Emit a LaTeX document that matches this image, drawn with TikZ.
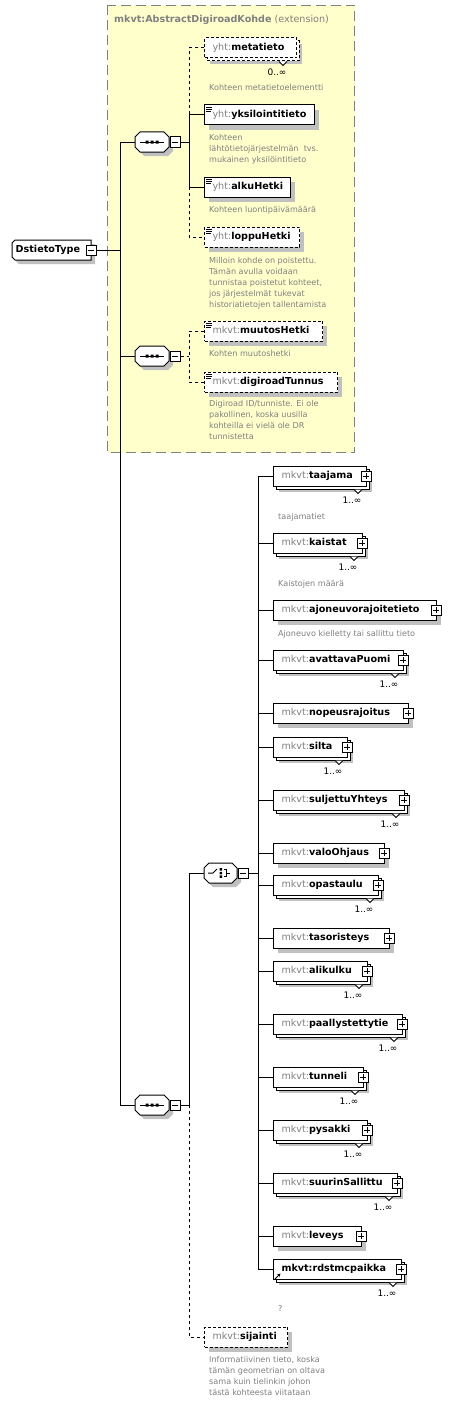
\documentclass[tikz,border=0pt]{standalone}
\usepackage{fontspec}
\setmainfont{DejaVu Sans}
\usetikzlibrary{arrows.meta}
\definecolor{yel}{RGB}{255,255,204}
\definecolor{pfx}{RGB}{128,128,128}
\definecolor{dsc}{RGB}{128,128,128}
\definecolor{shd}{RGB}{192,192,192}
\definecolor{ybrd}{RGB}{128,128,128}
\tikzset{
 ebox/.style={draw, fill=white, line width=1pt, inner sep=0pt, minimum height=20pt, text height=7pt, text depth=2pt, font=\fontsize{9.6}{11}\selectfont},
 edash/.style={dash pattern=on 3pt off 2pt},
 conn/.style={line width=1pt},
 conndash/.style={line width=1pt, dash pattern=on 3pt off 3pt},
 desc/.style={anchor=base west, align=left, inner sep=0pt, text=dsc, font=\fontsize{8.1}{11.2}\selectfont},
 multc/.style={inner sep=0pt, font=\fontsize{9}{10}\selectfont},
 pbox/.style={draw, fill=white, line width=1pt, minimum width=10pt, minimum height=10pt, inner sep=0pt},
 plusbox/.style={pbox, path picture={\draw[line width=1pt] ([xshift=2pt]path picture bounding box.west) -- ([xshift=-2pt]path picture bounding box.east) ([yshift=-2pt]path picture bounding box.north) -- ([yshift=2pt]path picture bounding box.south);}},
 minusbox/.style={pbox, path picture={\draw[line width=1pt] ([xshift=2pt]path picture bounding box.west) -- ([xshift=-2pt]path picture bounding box.east);}},
}
% element: name, left, centre y, right, style, text, stacked
\newcommand\elem[7]{%
  \ifnum#7=1\relax
    \fill[shd] ({#2+6},{#3-4}) rectangle ({#4+6},{#3+16});
    \draw[fill=white,line width=1pt,#5] ({#2+3},{#3-7}) rectangle ({#4+3},{#3+13});
  \else
    \fill[shd] ({#2+5},{#3-5}) rectangle ({#4+5},{#3+15});
  \fi
  \pgfmathsetmacro\elw{#4-#2}%
  \node[ebox,#5,anchor=west] (#1) at (#2,#3) {\makebox[\elw pt][l]{\hspace*{8pt}#6}};
}
\newcommand\mult[4]{%
  \draw[fill=white,line width=1pt] ({#2-12},{#3+13.5}) -- ({#2-8},{#3+17.5}) -- ({#2-4},{#3+13.5});
  \node[multc] (#1) at ({#2-14},{#3+24}) {#4};
}
\newcommand\simp[2]{%
  \draw[line width=0.8pt] ({#1+2},{#2+2}) -- ({#1+8},{#2+2}) ({#1+2},{#2+4}) -- ({#1+8},{#2+4}) ({#1+2},{#2+6}) -- ({#1+7},{#2+6});
}
% compositor: name, x1, y1, x2, y2
\newcommand\comp[5]{%
  \fill[shd] ({#2+9},{#3+4}) -- ({#4-1},{#3+4}) -- ({#4+4},{#3+9}) -- ({#4+4},{#5-1}) -- ({#4-1},{#5+4}) -- ({#2+9},{#5+4}) -- ({#2+4},{#5-1}) -- ({#2+4},{#3+9}) -- cycle;
  \draw[fill=white,line width=1pt] ({#2+5},#3) -- ({#4-5},#3) -- (#4,{#3+5}) -- (#4,{#5-5}) -- ({#4-5},#5) -- ({#2+5},#5) -- (#2,{#5-5}) -- (#2,{#3+5}) -- cycle;
  \pgfmathsetmacro\cw{#4-#2}%
  \pgfmathsetmacro\chh{#5-#3}%
  \node[inner sep=0pt, minimum width=\cw pt, minimum height=\chh pt] (#1) at ({(#2+#4)/2},{(#3+#5)/2}) {};
}
\newcommand\seqicon[2]{%
  \draw[line width=1pt] ({#1-12},#2) -- ({#1+12},#2);
  \fill ({#1-6.5},{#2-1.5}) rectangle ({#1-3.5},{#2+1.5}) ({#1-1.5},{#2-1.5}) rectangle ({#1+1.5},{#2+1.5}) ({#1+3.5},{#2-1.5}) rectangle ({#1+6.5},{#2+1.5});
}
\newcommand\pl[3]{\node[plusbox] (#1) at (#2,#3) {};}
\begin{document}
\begin{tikzpicture}[x=1pt,y=-1pt]
\useasboundingbox (0,0) rectangle (463,1402);
\fill[white] (0,0) rectangle (463,1402);
\draw[fill=yel, draw=ybrd, line width=1pt, dash pattern=on 10pt off 5pt] (107.5,5.5) rectangle (354.5,452.5);
\node[anchor=base west, inner sep=0pt, text=pfx, font=\fontsize{9.6}{11}\selectfont] (title) at (114,23) {\textbf{mkvt:AbstractDigiroadKohde} (extension)};

% DstietoType
\fill[shd] (19,244) -- (95,244) -- (95,264) -- (19,264) -- (16,261) -- (16,247) -- cycle;
\draw[fill=white, line width=1pt] (15,240) -- (91,240) -- (91,260) -- (15,260) -- (12,257) -- (12,243) -- cycle;
\node[anchor=west, inner sep=0pt, font=\fontsize{9.6}{11}\selectfont] (dt) at (15.5,250) {\textbf{DstietoType}};
\node[minusbox] (dtm) at (91,250) {};

% sequences
\comp{s1}{135}{132}{169}{152}
\seqicon{152}{142}
\node[minusbox] (s1m) at (175,142) {};
\comp{s2}{135}{346}{169}{366}
\seqicon{152}{356}
\node[minusbox] (s2m) at (175,356) {};
\comp{s3}{135}{1095}{169}{1115}
\seqicon{152}{1105}
\node[minusbox] (s3m) at (175,1105) {};
% choice
\comp{ch}{204}{863}{237}{883}
\draw[line width=1pt] (208,873) -- (213,873) -- (217,869);
\fill (219.5,868.2) rectangle (222,870.7) (219.5,871.8) rectangle (222,874.3) (219.5,875.4) rectangle (222,877.9);
\draw[line width=1pt] (223.5,869.5) -- (226.5,869.5) -- (226.5,876.5) -- (223.5,876.5) (226.5,873) -- (230,873);
\node[minusbox] (chm) at (243,873) {};

% top group elements
\elem{meta}{204}{48}{296}{edash}{\textcolor{pfx}{yht:}\textbf{metatieto}}{1}
\mult{metam}{291}{48}{0..∞}
\node[desc] (metad) at (209,91) {Kohteen metatietoelementti};
\elem{yks}{204}{115}{314}{}{\textcolor{pfx}{yht:}\textbf{yksilointitieto}}{0}
\simp{204}{105}
\node[desc] (yksd) at (209,162.4) {Kohteen\\lähtötietojärjestelmän\ \ tvs.\\mukainen yksilöintitieto};
\elem{alku}{204}{187}{290}{}{\textcolor{pfx}{yht:}\textbf{alkuHetki}}{0}
\simp{204}{177}
\node[desc] (alkud) at (209,212) {Kohteen luontipäivämäärä};
\elem{loppu}{204}{237}{299}{edash}{\textcolor{pfx}{yht:}\textbf{loppuHetki}}{0}
\simp{204}{227}
\node[desc] (loppud) at (209,307.8) {Milloin kohde on poistettu.\\Tämän avulla voidaan\\tunnistaa poistetut kohteet,\\jos järjestelmät tukevat\\historiatietojen tallentamista};
\elem{muutos}{204}{331}{322}{edash}{\textcolor{pfx}{mkvt:}\textbf{muutosHetki}}{0}
\simp{204}{321}
\node[desc] (muutosd) at (209,356) {Kohten muutoshetki};
\elem{digi}{204}{382}{337}{edash}{\textcolor{pfx}{mkvt:}\textbf{digiroadTunnus}}{0}
\simp{204}{372}
\node[desc] (digid) at (209,439.6) {Digiroad ID/tunniste. Ei ole\\pakollinen, koska uusilla\\kohteilla ei vielä ole DR\\tunnistetta};

% choice children
\elem{taajama}{273}{476}{366}{}{\textcolor{pfx}{mkvt:}\textbf{taajama}}{1}
\pl{taajamap}{366}{476}\mult{taajamam}{366}{476}{1..∞}
\node[desc] (taajamad) at (278,519) {taajamatiet};
\elem{kaistat}{273}{543}{362}{}{\textcolor{pfx}{mkvt:}\textbf{kaistat}}{1}
\pl{kaistatp}{362}{543}\mult{kaistatm}{362}{543}{1..∞}
\node[desc] (kaistatd) at (278,586) {Kaistojen määrä};
\elem{ajon}{273}{610}{436}{}{\textcolor{pfx}{mkvt:}\textbf{ajoneuvorajoitetieto}}{0}
\pl{ajonp}{436}{610}
\node[desc] (ajond) at (278,636) {Ajoneuvo kielletty tai sallittu tieto};
\elem{avattava}{273}{660}{403}{}{\textcolor{pfx}{mkvt:}\textbf{avattavaPuomi}}{1}
\pl{avattavap}{403}{660}\mult{avattavam}{403}{660}{1..∞}
\elem{nopeus}{273}{713}{408}{}{\textcolor{pfx}{mkvt:}\textbf{nopeusrajoitus}}{0}
\pl{nopeusp}{408}{713}
\elem{silta}{273}{747}{347}{}{\textcolor{pfx}{mkvt:}\textbf{silta}}{1}
\pl{siltap}{347}{747}\mult{siltam}{347}{747}{1..∞}
\elem{suljettu}{273}{800}{404}{}{\textcolor{pfx}{mkvt:}\textbf{suljettuYhteys}}{1}
\pl{suljettup}{404}{800}\mult{suljettum}{404}{800}{1..∞}
\elem{valo}{273}{853}{384}{}{\textcolor{pfx}{mkvt:}\textbf{valoOhjaus}}{0}
\pl{valop}{384}{853}
\elem{opastaulu}{273}{885}{378}{}{\textcolor{pfx}{mkvt:}\textbf{opastaulu}}{1}
\pl{opastaulup}{378}{885}\mult{opastaulum}{378}{885}{1..∞}
\elem{taso}{273}{938}{389}{}{\textcolor{pfx}{mkvt:}\textbf{tasoristeys}}{0}
\pl{tasop}{389}{938}
\elem{alikulku}{273}{971}{367}{}{\textcolor{pfx}{mkvt:}\textbf{alikulku}}{1}
\pl{alikulkup}{367}{971}\mult{alikulkum}{367}{971}{1..∞}
\elem{paally}{273}{1024}{402}{}{\textcolor{pfx}{mkvt:}\textbf{paallystettytie}}{1}
\pl{paallyp}{402}{1024}\mult{paallym}{402}{1024}{1..∞}
\elem{tunneli}{273}{1077}{363}{}{\textcolor{pfx}{mkvt:}\textbf{tunneli}}{1}
\pl{tunnelip}{363}{1077}\mult{tunnelim}{363}{1077}{1..∞}
\elem{pysakki}{273}{1130}{367}{}{\textcolor{pfx}{mkvt:}\textbf{pysakki}}{1}
\pl{pysakkip}{367}{1130}\mult{pysakkim}{367}{1130}{1..∞}
\elem{suurin}{273}{1183}{397}{}{\textcolor{pfx}{mkvt:}\textbf{suurinSallittu}}{1}
\pl{suurinp}{397}{1183}\mult{suurinm}{397}{1183}{1..∞}
\elem{leveys}{273}{1236}{361}{}{\textcolor{pfx}{mkvt:}\textbf{leveys}}{0}
\pl{leveysp}{361}{1236}
\elem{rdst}{273}{1269}{401}{}{\textbf{mkvt:rdstmcpaikka}}{1}
\pl{rdstp}{401}{1269}\mult{rdstm}{401}{1269}{1..∞}
\draw[line width=1pt, -{Stealth[length=3.5pt,width=3.5pt]}] (275,1279) -- (280.5,1273.5);
\node[desc] (rdstd) at (278,1311) {?};

% sijainti
\elem{sij}{204}{1337}{287}{edash}{\textcolor{pfx}{mkvt:}\textbf{sijainti}}{0}
\node[desc] (sijd) at (209,1395.6) {Informatiivinen tieto, koska\\tämän geometrian on oltava\\sama kuin tielinkin johon\\tästä kohteesta viitataan};

% connectors
\coordinate (j0) at (120,250);
\draw[conn] (dtm.east) -- (j0);
\draw[conn] (s1.west) -- (s1.west -| j0) -- (s3.west -| j0) -- (s3.west);
\draw[conn] (s2.west -| j0) -- (s2.west);
\coordinate (b1) at (189,142);
\draw[conn] (s1m.east) -- (b1);
\draw[conndash] (meta.west) -- (meta.west -| b1) -- (yks.west -| b1);
\draw[conn] (yks.west) -- (yks.west -| b1) -- (alku.west -| b1) -- (alku.west);
\draw[conndash] (alku.west -| b1) -- (loppu.west -| b1) -- (loppu.west);
\coordinate (b2) at (189,356);
\draw[conndash] (s2m.east) -- (b2);
\draw[conndash] (muutos.west) -- (muutos.west -| b2) -- (digi.west -| b2) -- (digi.west);
\coordinate (b3) at (189,1105);
\draw[conn] (s3m.east) -- (b3) -- (ch.west -| b3) -- (ch.west);
\draw[conndash] (b3) -- (sij.west -| b3) -- (sij.west);
\coordinate (c1) at (258,873);
\draw[conn] (chm.east) -- (c1);
\draw[conn] (taajama.west -| c1) -- (rdst.west -| c1);
\foreach \n in {taajama,kaistat,ajon,avattava,nopeus,silta,suljettu,valo,opastaulu,taso,alikulku,paally,tunneli,pysakki,suurin,leveys,rdst}
  \draw[conn] (\n.west -| c1) -- (\n.west);
\end{tikzpicture}
\end{document}
